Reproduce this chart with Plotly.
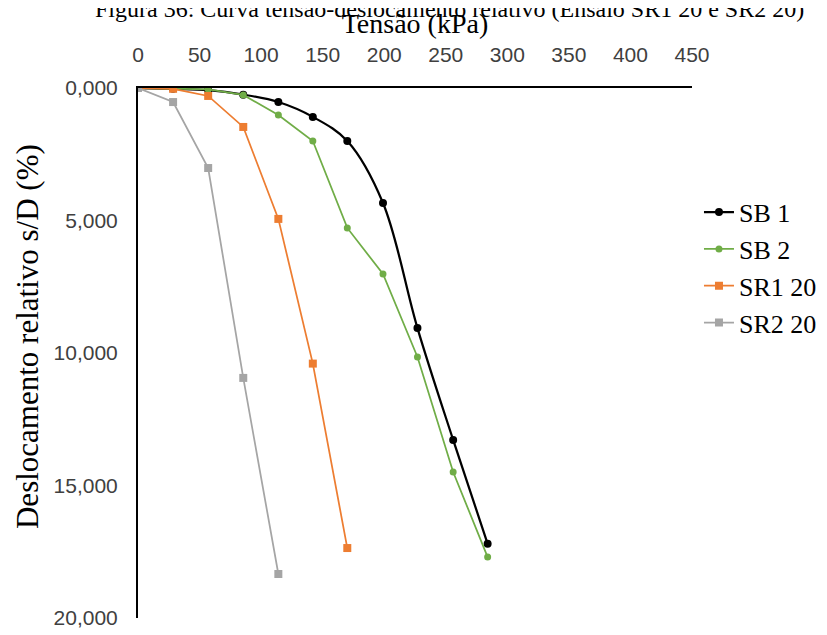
import plotly.graph_objects as go

# Tensão (kPa)
tensao_sb = [0, 28.5, 57, 85.5, 114, 142, 170, 199, 227, 256, 284]
tensao_sr1 = [0, 28.5, 57, 85.5, 114, 142, 170]
tensao_sr2 = [0, 28.5, 57, 85.5, 114]

# Deslocamento relativo s/D (%)
sb1 = [0, 0.03, 0.08, 0.25, 0.53, 1.09, 2.0, 4.34, 9.06, 13.28, 17.2]
sb2 = [0, 0.02, 0.05, 0.26, 1.02, 2.0, 5.28, 7.02, 10.15, 14.49, 17.7]
sr1_20 = [0, 0.03, 0.3, 1.47, 4.94, 10.4, 17.36]
sr2_20 = [0, 0.53, 3.02, 10.94, 18.34]

x_ticks = [0, 50, 100, 150, 200, 250, 300, 350, 400, 450]
y_ticks = [0, 5, 10, 15, 20]

serif = "Liberation Serif, Times New Roman, serif"
sans = "Liberation Sans, Arial, sans-serif"

fig = go.Figure()
fig.add_trace(go.Scatter(x=tensao_sb, y=sb1, name="SB 1", mode="lines+markers",
                         line=dict(color="#000000", width=2.25, shape="spline"),
                         marker=dict(symbol="circle", size=8, color="#000000")))
fig.add_trace(go.Scatter(x=tensao_sb, y=sb2, name="SB 2", mode="lines+markers",
                         line=dict(color="#70AD47", width=1.75),
                         marker=dict(symbol="circle", size=7, color="#70AD47")))
fig.add_trace(go.Scatter(x=tensao_sr1, y=sr1_20, name="SR1 20", mode="lines+markers",
                         line=dict(color="#ED7D31", width=1.75),
                         marker=dict(symbol="square", size=8, color="#ED7D31")))
fig.add_trace(go.Scatter(x=tensao_sr2, y=sr2_20, name="SR2 20", mode="lines+markers",
                         line=dict(color="#A5A5A5", width=1.75),
                         marker=dict(symbol="square", size=8, color="#A5A5A5")))

fig.update_layout(
    width=827, height=635,
    margin=dict(l=130, r=143, t=80, b=25, autoexpand=False),
    paper_bgcolor="white", plot_bgcolor="white",
    separators=",.",
    showlegend=True,
    legend=dict(x=1.0126, xanchor="left", y=0.81, yanchor="top",
                font=dict(family=serif, size=26, color="#000000"),
                bgcolor="rgba(0,0,0,0)", itemwidth=30, tracegroupgap=0),
    annotations=[
        dict(text="Figura 36: Curva tensão-deslocamento relativo (Ensaio SR1 20 e SR2 20)",
             xref="paper", yref="paper", x=0.562, y=1.150,
             xanchor="center", yanchor="middle", showarrow=False,
             font=dict(family=serif, size=24, color="#000000")),
        dict(text="Deslocamento relativo s/D (%)",
             xref="paper", yref="paper", x=-0.2004, y=0.532, textangle=-90,
             xanchor="center", yanchor="middle", showarrow=False,
             font=dict(family=serif, size=31, color="#000000")),
    ],
)

fig.update_xaxes(
    side="top", range=[0, 450], tickvals=x_ticks, automargin=False,
    showline=True, linecolor="#000000", linewidth=2,
    showgrid=False, zeroline=False,
    ticks="outside", ticklen=16, tickcolor="rgba(0,0,0,0)",
    tickfont=dict(family=sans, size=21, color="#404040"),
    title=dict(text="Tensão (kPa)", font=dict(family=serif, size=28, color="#000000"), standoff=6),
)
fig.update_yaxes(
    range=[20, 0], tickvals=y_ticks, tickformat=".3f", automargin=False,
    showline=True, linecolor="#000000", linewidth=2,
    showgrid=False, zeroline=False,
    ticks="outside", ticklen=14, tickcolor="rgba(0,0,0,0)",
    tickfont=dict(family=sans, size=21, color="#404040"),
)

fig.write_html("out.html")
